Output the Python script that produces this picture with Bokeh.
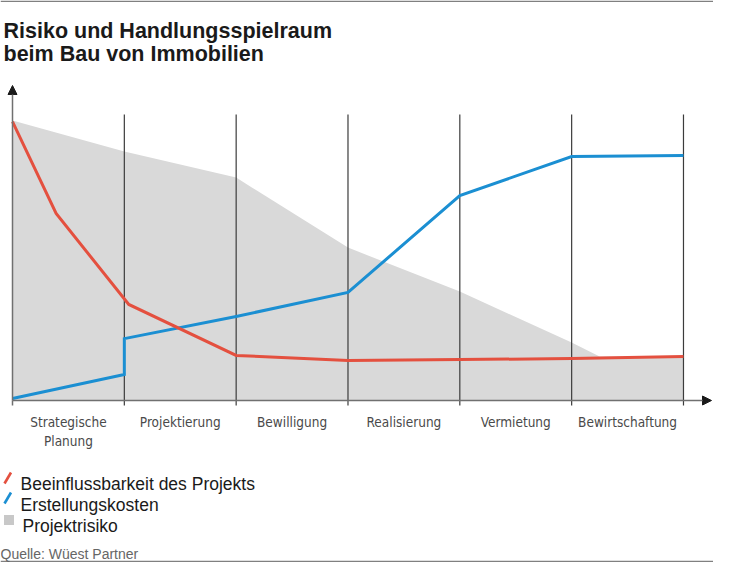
from bokeh.plotting import figure
from bokeh.models import Range1d, Arrow, NormalHead
from bokeh.core.properties import value
from bokeh.embed import file_html
from bokeh.resources import INLINE

# ---- data -------------------------------------------------------------
title_lines = ["Risiko und Handlungsspielraum", "beim Bau von Immobilien"]
phases = ["Strategische\nPlanung", "Projektierung", "Bewilligung",
          "Realisierung", "Vermietung", "Bewirtschaftung"]

# Beeinflussbarkeit des Projekts (red)
red_x = [0, 0.39, 1.04, 2.0, 3.0, 4.0, 5.0, 6.0]
red_y = [99.6, 66.8, 34.3, 16.1, 14.3, 14.6, 15.0, 15.7]

# Erstellungskosten (blue)
blue_x = [0, 1.0, 1.0, 2.0, 3.0, 4.0, 5.0, 6.0]
blue_y = [0.7, 9.3, 22.1, 30.0, 38.6, 73.2, 87.1, 87.5]

# Projektrisiko (grey area)
gray_x = [0, 1.0, 2.0, 2.14, 3.0, 4.0, 5.0, 5.25, 6.0]
gray_y = [100.0, 88.9, 79.6, 76.1, 54.6, 38.9, 20.7, 15.7, 15.7]

legend_labels = ["Beeinflussbarkeit des Projekts", "Erstellungskosten", "Projektrisiko"]
source_text = "Quelle: Wüest Partner"

RED = "#e4503f"
BLUE = "#1b8fd2"
GREY = "#d9d9d9"
AXIS = "#707070"
VLINE = "#3c3c3c"
FONT = "Liberation Sans"
NARROW = "Liberation Sans Narrow, Arial Narrow, DejaVu Sans Condensed, Roboto Condensed, Roboto"

# ---- geometry helpers (reference pixel -> data units) ------------------
PX = 111.83
PY = 2.8
W, H = 713, 562


def X(rx):
    return (rx - 12) / PX


def Y(ry):
    return (400 - ry) / PY


p = figure(width=W, height=H, output_backend="svg", toolbar_location=None,
           x_range=Range1d(X(0), X(W)), y_range=Range1d(Y(H), Y(0)),
           x_axis_type=None, y_axis_type=None, min_border=0,
           outline_line_color=None, background_fill_color="white",
           border_fill_color="white")
p.grid.visible = False

# top / bottom rules
p.segment(x0=[X(0)], x1=[X(W)], y0=[Y(0.7)], y1=[Y(0.7)],
          line_color="#808080", line_width=1.5)
p.segment(x0=[X(0)], x1=[X(W)], y0=[Y(H - 1)], y1=[Y(H - 1)],
          line_color="#808080", line_width=1.5)

# grey area
p.varea(x=gray_x, y1=[0] * len(gray_x), y2=gray_y, fill_color=GREY)

# vertical phase separators (with ticks below the baseline)
n = len(phases)
p.segment(x0=list(range(1, n + 1)), x1=list(range(1, n + 1)),
          y0=[Y(405)] * n, y1=[Y(114)] * n, line_color=VLINE, line_width=1.2)
p.segment(x0=[0], x1=[0], y0=[0], y1=[Y(405)], line_color=AXIS, line_width=1.5)

# axes with arrows
p.add_layout(Arrow(x_start=0, y_start=0, x_end=X(711), y_end=0,
                   line_color=AXIS, line_width=1.5,
                   end=NormalHead(size=9, fill_color="#1a1a1a", line_color="#1a1a1a", line_width=1)))
p.add_layout(Arrow(x_start=0, y_start=0, x_end=0, y_end=Y(85),
                   line_color=AXIS, line_width=1.5,
                   end=NormalHead(size=9, fill_color="#1a1a1a", line_color="#1a1a1a", line_width=1)))

# lines
p.line(blue_x, blue_y, line_color=BLUE, line_width=3, line_join="miter")
p.line(red_x, red_y, line_color=RED, line_width=3, line_join="miter")

# phase labels
lx, ly, lt = [], [], []
for i, lab in enumerate(phases):
    for j, part in enumerate(lab.split("\n")):
        lx.append(i + 0.5)
        ly.append(Y(421 + 19 * j))
        lt.append(part)
p.text(x=lx, y=ly, text=lt, text_font=value(NARROW), text_font_size="13.5px",
       text_color="#4a4a4a", text_align="center", text_baseline="alphabetic")

# title
p.text(x=[X(3), X(3)], y=[Y(30), Y(53)], text=title_lines,
       text_font=value(FONT), text_font_size="21.5px", text_font_style="bold",
       text_color="#1a1a1a", text_align="left", text_baseline="alphabetic")

# legend (compressed slightly upward to fit the page)
LS = -6
p.segment(x0=[X(4), X(4)], x1=[X(10.5), X(10.5)],
          y0=[Y(489 + LS), Y(509 + LS)], y1=[Y(478 + LS), Y(498 + LS)],
          line_color=[RED, BLUE], line_width=2.6)
p.rect(x=[X(8.5)], y=[Y(525.5 + LS)], width=10 / PX, height=10 / PY,
       fill_color="#c8c8c8", line_color=None)
p.text(x=[X(20), X(20), X(22)], y=[Y(489 + LS), Y(510 + LS), Y(531 + LS)], text=legend_labels,
       text_font=value(FONT), text_font_size="17.5px", text_color="#1a1a1a",
       text_align="left", text_baseline="alphabetic")

# source
p.text(x=[X(0)], y=[Y(566 - 13)], text=[source_text], text_font=value(FONT),
       text_font_size="14px", text_color="#666666", text_align="left",
       text_baseline="alphabetic")

open("out.html", "w").write(file_html(p, INLINE))
